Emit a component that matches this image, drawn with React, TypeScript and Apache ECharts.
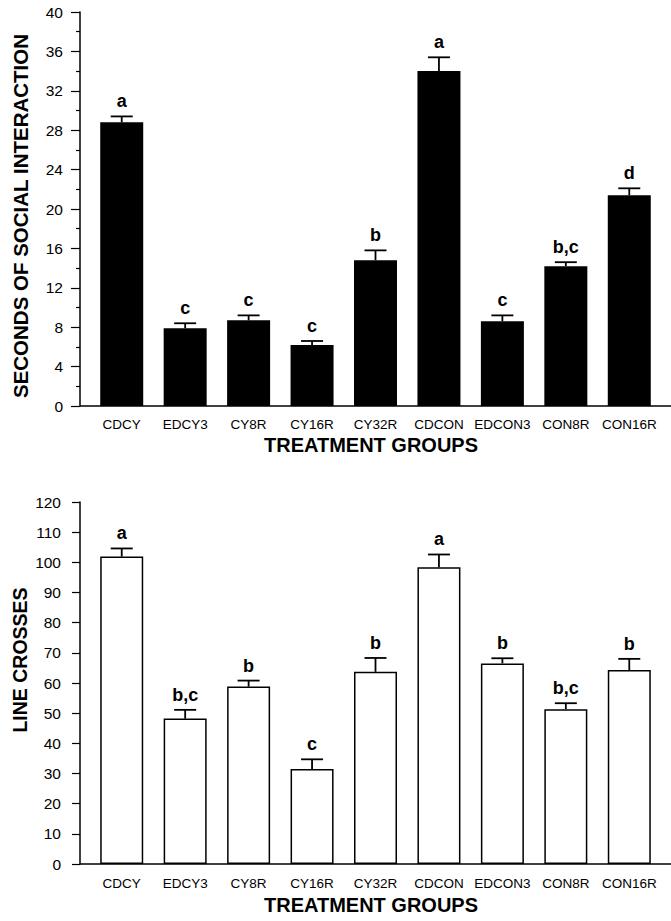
import React, { useEffect, useRef } from "react";
import * as echarts from "echarts";

const categories = ["CDCY", "EDCY3", "CY8R", "CY16R", "CY32R", "CDCON", "EDCON3", "CON8R", "CON16R"];

const socialMeans = [28.8, 7.9, 8.7, 6.2, 14.8, 34.0, 8.6, 14.2, 21.4];
const socialSem = [0.6, 0.5, 0.5, 0.4, 1.0, 1.4, 0.6, 0.4, 0.7];
const socialLetters = ["a", "c", "c", "c", "b", "a", "c", "b,c", "d"];

const crossMeans = [101.9, 48.2, 58.8, 31.5, 63.7, 98.4, 66.5, 51.3, 64.3];
const crossSem = [2.7, 2.9, 2.0, 3.2, 4.6, 4.2, 1.7, 2.0, 3.7];
const crossLetters = ["a", "b,c", "b", "c", "b", "a", "b", "b,c", "b"];

const FONT = "'Liberation Sans', Arial, Helvetica, sans-serif";

const W = 671;
const H = 921;
const G1 = { left: 90, right: 10, top: 12, height: 394 };
const G2 = { left: 90, right: 10, top: 502, height: 362 };

function errorSeries(idx: number, means: number[], sem: number[], letters: string[]) {
  return {
    type: "custom",
    xAxisIndex: idx,
    yAxisIndex: idx,
    clip: false,
    data: means.map((m, i) => [i, m, m + sem[i]]),
    renderItem: (params: any, api: any) => {
      const i = api.value(0);
      const base = api.coord([i, api.value(1)]);
      const top = api.coord([i, api.value(2)]);
      const x = base[0];
      return {
        type: "group",
        children: [
          {
            type: "line",
            shape: { x1: x, y1: base[1], x2: x, y2: top[1] },
            style: { stroke: "#000", lineWidth: 1.8 },
          },
          {
            type: "line",
            shape: { x1: x - 11, y1: top[1], x2: x + 11, y2: top[1] },
            style: { stroke: "#000", lineWidth: 1.8 },
          },
          {
            type: "text",
            x: x,
            y: top[1] - 15,
            style: {
              text: letters[params.dataIndex],
              fontFamily: FONT,
              fontWeight: "bold",
              fontSize: 18,
              fill: "#000",
              align: "center",
              verticalAlign: "middle",
            },
          },
        ],
      };
    },
  };
}

function yAxisCfg(gridIndex: number, max: number, interval: number, minor: boolean, tickLen: number, margin: number) {
  return {
    type: "value",
    gridIndex,
    min: 0,
    max,
    interval,
    offset: 10,
    axisLine: { show: true, lineStyle: { color: "#000", width: 1.5 } },
    axisTick: { show: true, length: tickLen, lineStyle: { color: "#000", width: 1.2 } },
    minorTick: { show: minor, splitNumber: 2, length: 4, lineStyle: { color: "#000", width: 1.2 } },
    splitLine: { show: false },
    minorSplitLine: { show: false },
    axisLabel: { color: "#000", fontSize: 15.5, fontFamily: FONT, margin },
  };
}

function xAxisCfg(gridIndex: number, margin: number) {
  return {
    type: "category",
    gridIndex,
    data: categories,
    axisLine: { show: false },
    axisTick: { show: false },
    axisLabel: { color: "#000", fontSize: 13.5, fontFamily: FONT, margin, interval: 0 },
  };
}

export default function App() {
  const ref = useRef<HTMLDivElement>(null);
  useEffect(() => {
    if (!ref.current) return;
    const chart = echarts.init(ref.current, null, { renderer: "svg" });
    const y1 = G1.top + G1.height;
    const y2 = G2.top + G2.height;
    chart.setOption({
      animation: false,
      backgroundColor: "#fff",
      grid: [G1, G2],
      xAxis: [xAxisCfg(0, 11), xAxisCfg(1, 12)],
      yAxis: [yAxisCfg(0, 40, 4, true, 9, 17), yAxisCfg(1, 120, 10, false, 8, 19)],
      series: [
        {
          type: "bar",
          xAxisIndex: 0,
          yAxisIndex: 0,
          data: socialMeans,
          barWidth: 43,
          itemStyle: { color: "#000" },
        },
        errorSeries(0, socialMeans, socialSem, socialLetters),
        {
          type: "bar",
          xAxisIndex: 1,
          yAxisIndex: 1,
          data: crossMeans,
          barWidth: 43,
          itemStyle: { color: "#fff", borderColor: "#000", borderWidth: 1.5 },
        },
        errorSeries(1, crossMeans, crossSem, crossLetters),
      ],
      graphic: [
        { type: "line", shape: { x1: 80, y1: y1, x2: W, y2: y1 }, style: { stroke: "#000", lineWidth: 1.5 } },
        { type: "line", shape: { x1: 80, y1: y2, x2: W, y2: y2 }, style: { stroke: "#000", lineWidth: 1.5 } },
        {
          type: "text",
          x: 20,
          y: 216,
          rotation: Math.PI / 2,
          style: {
            text: "SECONDS OF SOCIAL INTERACTION",
            fontFamily: FONT,
            fontWeight: "bold",
            fontSize: 20.5,
            fill: "#000",
            align: "center",
            verticalAlign: "middle",
          },
        },
        {
          type: "text",
          x: 371,
          y: 445,
          style: {
            text: "TREATMENT GROUPS",
            fontFamily: FONT,
            fontWeight: "bold",
            fontSize: 20,
            fill: "#000",
            align: "center",
            verticalAlign: "middle",
          },
        },
        {
          type: "text",
          x: 20,
          y: 660,
          rotation: Math.PI / 2,
          style: {
            text: "LINE CROSSES",
            fontFamily: FONT,
            fontWeight: "bold",
            fontSize: 19.5,
            fill: "#000",
            align: "center",
            verticalAlign: "middle",
          },
        },
        {
          type: "text",
          x: 371,
          y: 905,
          style: {
            text: "TREATMENT GROUPS",
            fontFamily: FONT,
            fontWeight: "bold",
            fontSize: 20,
            fill: "#000",
            align: "center",
            verticalAlign: "middle",
          },
        },
      ],
    });
    return () => chart.dispose();
  }, []);
  return (
    <div
      ref={ref}
      style={{ position: "absolute", left: 0, top: 0, width: W, height: H, background: "#fff" }}
    />
  );
}
